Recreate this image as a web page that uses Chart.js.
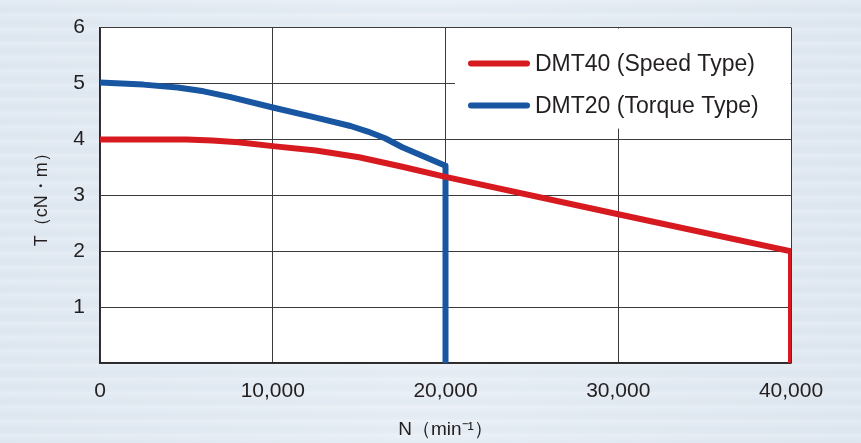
<!DOCTYPE html>
<html>
<head>
<meta charset="utf-8">
<script src="https://cdn.jsdelivr.net/npm/chart.js@4.4.1/dist/chart.umd.min.js"></script>
<style>
    html, body {
        margin: 0;
        padding: 0;
    }
    body {
        width: 861px;
        height: 443px;
        overflow: hidden;
        background-color: #e3eaf2;
        background-image:
            repeating-linear-gradient(180deg, rgba(255,255,255,0.18) 0px, rgba(255,255,255,0) 5px, rgba(205,216,229,0.15) 9px, rgba(255,255,255,0) 14px),
            linear-gradient(90deg, #e0e8f1 0%, #e7eef5 50%, #dfe7f0 100%);
    }
    #wrap {
        position: relative;
        width: 861px;
        height: 443px;
    }
</style>
</head>
<body>
<div id="wrap"><canvas id="torqueChart"></canvas></div>
<script>
// speed (min-1) / torque (cN·m)
const speedLabel = 'DMT40 (Speed Type)'
const speedN = [0, 2500, 5000, 6500, 8000, 10000, 12500, 15000, 17500, 20000, 30000, 40000, 40000]
const speedT = [4.0, 4.0, 4.0, 3.98, 3.95, 3.88, 3.8, 3.68, 3.51, 3.33, 2.66, 2.0, 0]

const torqueLabel = 'DMT20 (Torque Type)'
const torqueN = [0, 2500, 4500, 6000, 7500, 10000, 12500, 14500, 15500, 16500, 17500, 20000, 20000]
const torqueT = [5.02, 4.98, 4.93, 4.86, 4.76, 4.57, 4.39, 4.24, 4.14, 4.02, 3.86, 3.53, 0]

const xTicks = [0, 10000, 20000, 30000, 40000]
const yTicks = [1, 2, 3, 4, 5, 6]

const textColor = '#231f20'
const gridColor = '#3c3a3a'
const fontFamily = '"Liberation Sans", Arial, sans-serif'

function toPoints(xs, ys) {
    return xs.map((x, i) => ({ x: x, y: ys[i] }))
}

// white plot area
const plotBackground = {
    id: 'plotBackground',
    beforeDraw(chart) {
        const { ctx, chartArea } = chart
        ctx.save()
        ctx.fillStyle = '#ffffff'
        ctx.fillRect(chartArea.left, chartArea.top, chartArea.right - chartArea.left, chartArea.bottom - chartArea.top)
        ctx.restore()
    }
}

// white legend box drawn inside the plot, over the grid
const insideLegend = {
    id: 'insideLegend',
    beforeDatasetsDraw(chart) {
        const { ctx, chartArea } = chart
        const boxLeft = chartArea.right - 336
        const boxBottom = chartArea.top + 101
        ctx.save()
        ctx.fillStyle = '#ffffff'
        ctx.fillRect(boxLeft, chartArea.top + 1, chartArea.right - 0.5 - boxLeft, boxBottom - chartArea.top - 1)

        const rows = [chartArea.top + 36, chartArea.top + 78]
        chart.data.datasets.forEach((ds, i) => {
            const y = rows[i]
            ctx.strokeStyle = ds.borderColor
            ctx.lineWidth = 6
            ctx.lineCap = 'round'
            ctx.beginPath()
            ctx.moveTo(boxLeft + 16, y)
            ctx.lineTo(boxLeft + 72, y)
            ctx.stroke()

            ctx.fillStyle = textColor
            ctx.font = '23px ' + fontFamily
            ctx.textBaseline = 'middle'
            ctx.textAlign = 'left'
            ctx.fillText(ds.label, boxLeft + 80, y + 1)
        })
        ctx.restore()
    }
}

new Chart(document.getElementById('torqueChart'), {
    type: 'line',
    data: {
        datasets: [{
            label: speedLabel,
            data: toPoints(speedN, speedT),
            borderColor: '#d71a1f',
            borderWidth: 6,
            borderJoinStyle: 'round',
            pointRadius: 0,
            tension: 0,
            fill: false
        }, {
            label: torqueLabel,
            data: toPoints(torqueN, torqueT),
            borderColor: '#1856a2',
            borderWidth: 6,
            borderJoinStyle: 'round',
            pointRadius: 0,
            tension: 0,
            fill: false
        }]
    },
    options: {
        responsive: true,
        maintainAspectRatio: false,
        animation: false,
        events: [],
        layout: {
            padding: { top: 19, right: 70, bottom: 0, left: 0 }
        },
        plugins: {
            legend: { display: false },
            tooltip: { enabled: false }
        },
        scales: {
            x: {
                type: 'linear',
                min: 0,
                max: 40000,
                afterBuildTicks: scale => {
                    scale.ticks = xTicks.map(v => ({ value: v }))
                },
                afterFit: scale => {
                    scale.height = 80
                },
                ticks: {
                    color: textColor,
                    padding: 16,
                    font: { family: fontFamily, size: 21 },
                    callback: value => value.toLocaleString('en-US')
                },
                grid: {
                    color: gridColor,
                    lineWidth: 1,
                    drawTicks: false
                },
                border: { color: '#2a2828', width: 1.5 },
                title: {
                    display: true,
                    text: 'N（min⁻¹）',
                    color: textColor,
                    font: { family: fontFamily, size: 19 },
                    padding: { top: 0, bottom: 2 }
                }
            },
            y: {
                type: 'linear',
                min: 0,
                max: 6,
                afterBuildTicks: scale => {
                    scale.ticks = [0].concat(yTicks).map(v => ({ value: v }))
                },
                afterFit: scale => {
                    scale.width = 100
                },
                ticks: {
                    color: textColor,
                    padding: 15,
                    font: { family: fontFamily, size: 21 },
                    callback: value => value === 0 ? '' : value
                },
                grid: {
                    color: gridColor,
                    lineWidth: 1,
                    drawTicks: false
                },
                border: { color: '#2a2828', width: 1.5 },
                title: {
                    display: true,
                    text: 'T（cN・m）',
                    color: textColor,
                    font: { family: fontFamily, size: 18 },
                    padding: { top: 31, bottom: 0 }
                }
            }
        }
    },
    plugins: [plotBackground, insideLegend]
})
</script>
</body>
</html>
